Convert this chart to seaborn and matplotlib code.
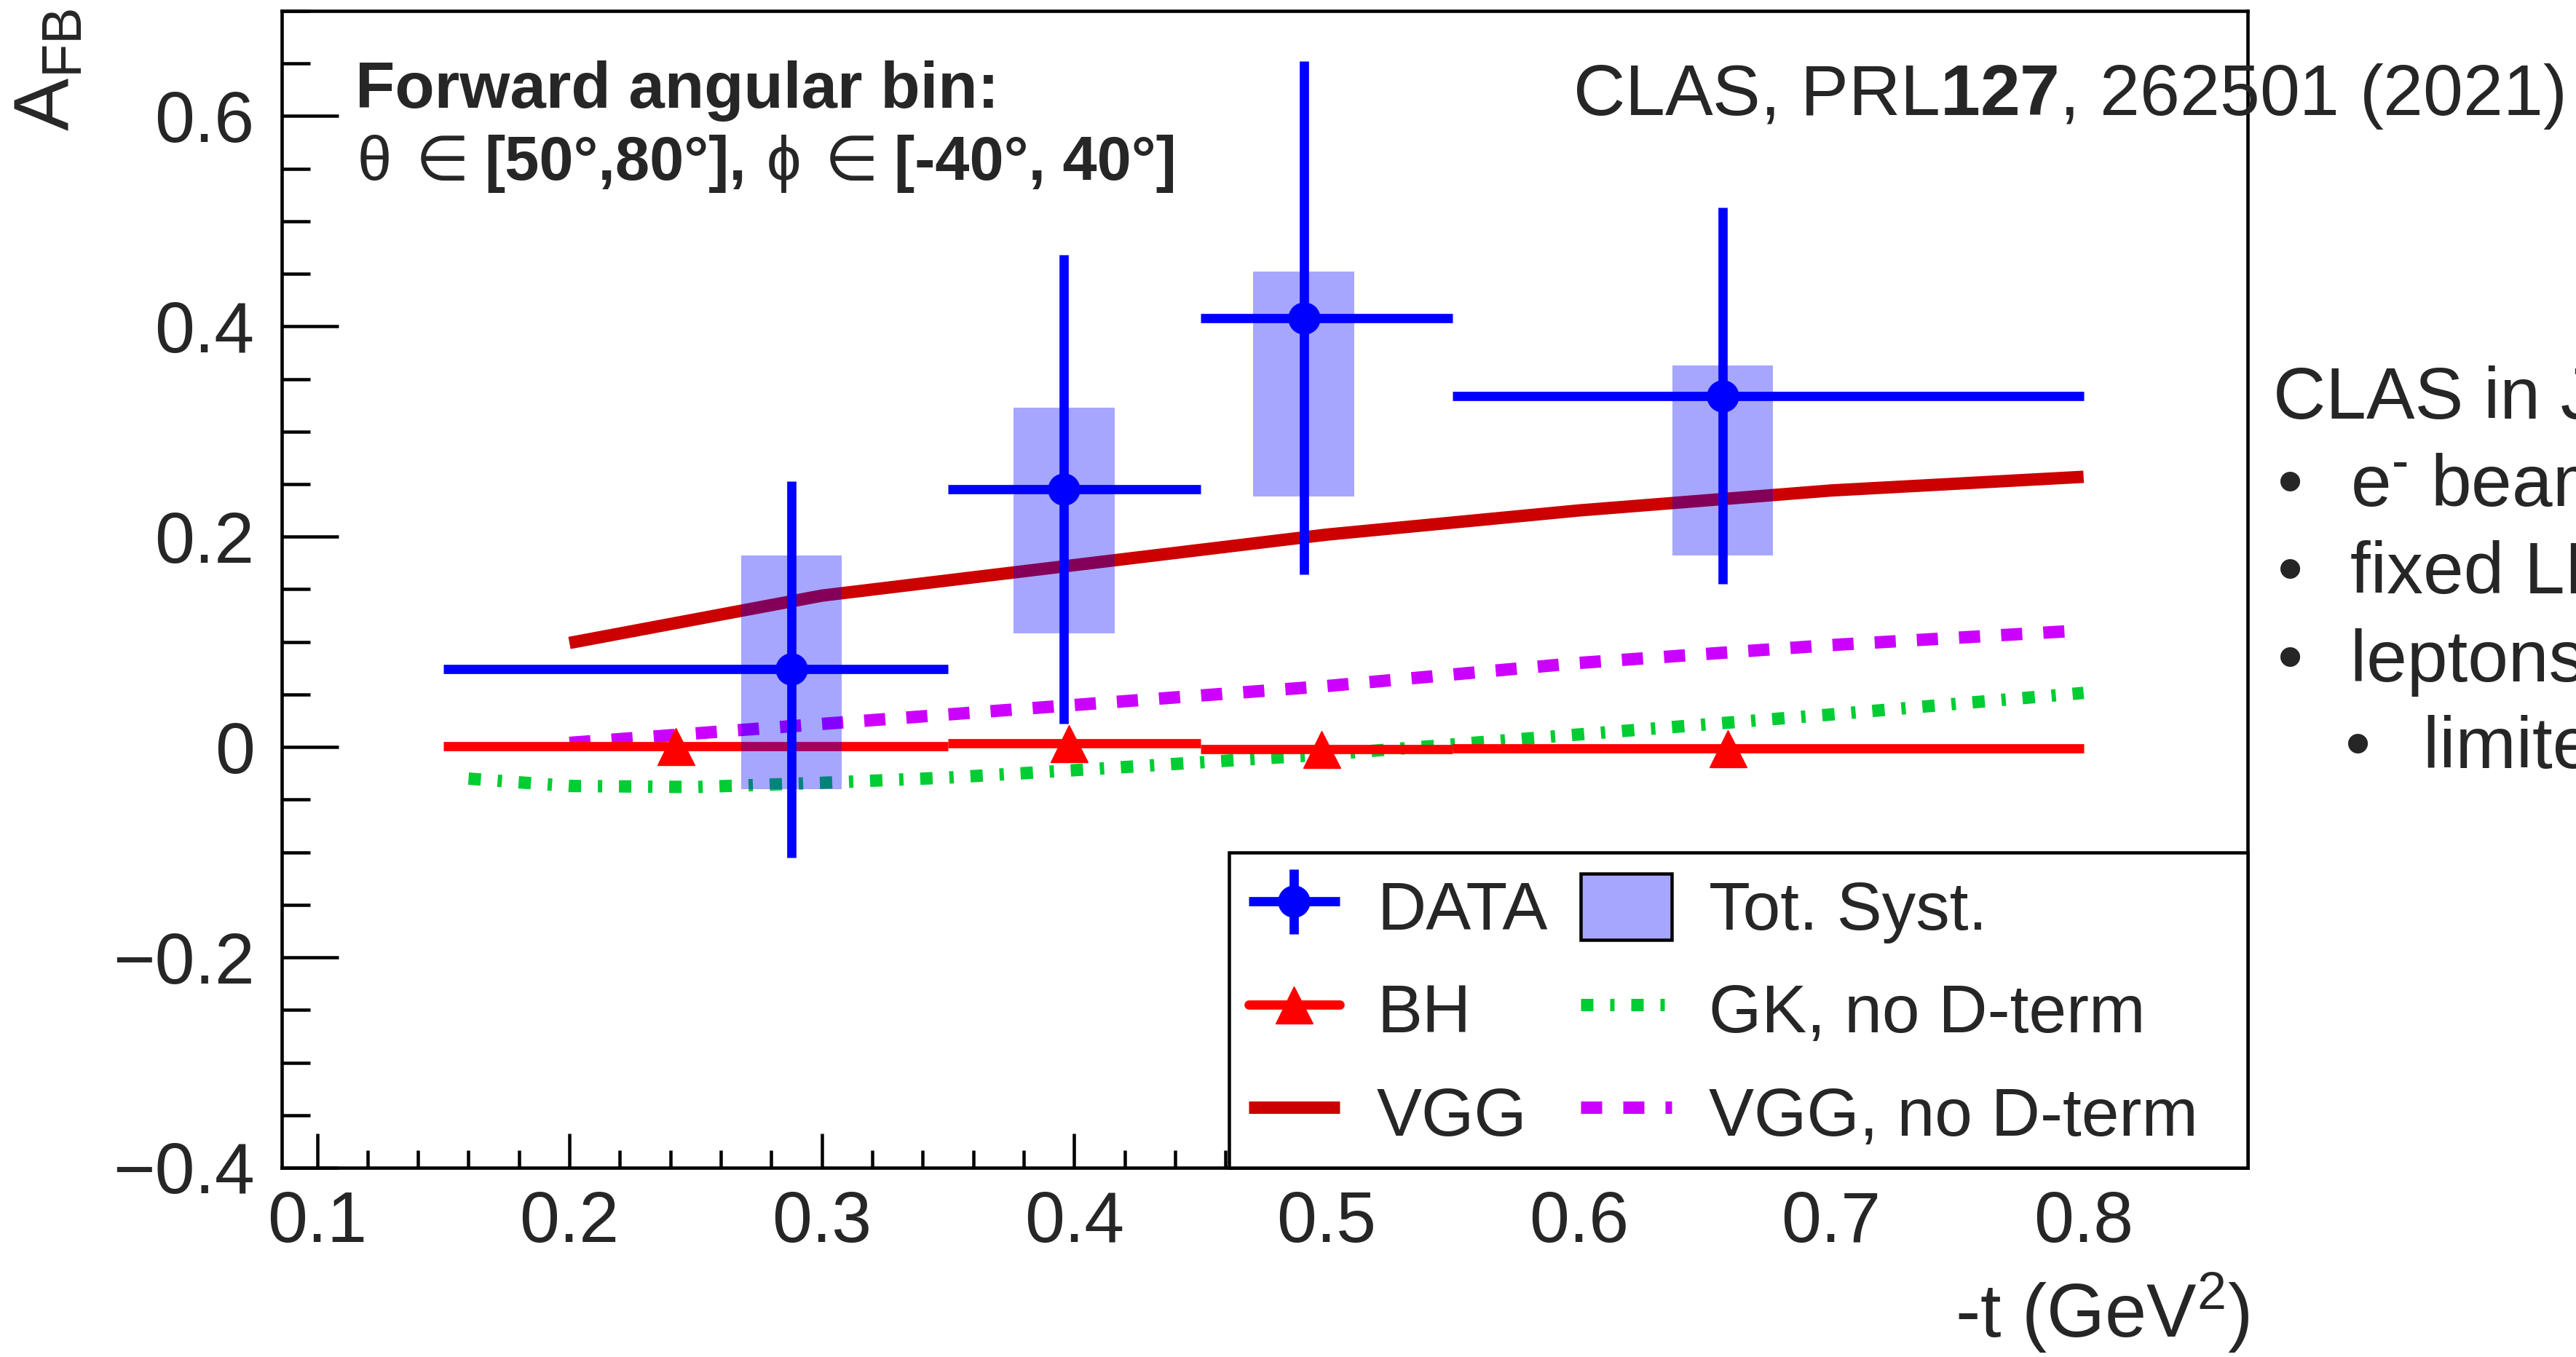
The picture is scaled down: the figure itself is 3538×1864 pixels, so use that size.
import matplotlib
matplotlib.use("Agg")
import numpy as np
import pandas as pd
import matplotlib.pyplot as plt
import seaborn as sns
from matplotlib.lines import Line2D
from matplotlib.patches import Patch, Rectangle
from matplotlib.legend_handler import HandlerErrorbar
from matplotlib.ticker import MultipleLocator, FuncFormatter
from matplotlib.transforms import IdentityTransform

# ---------------- data ----------------
bin_lo = [0.15, 0.35, 0.45, 0.55]
bin_hi = [0.35, 0.45, 0.55, 0.80]

data_t = [0.288, 0.396, 0.491, 0.657]
data_afb = [0.074, 0.245, 0.408, 0.334]
data_stat = [0.179, 0.223, 0.244, 0.179]
syst_low = [-0.040, 0.108, 0.238, 0.182]
syst_high = [0.182, 0.323, 0.452, 0.363]

bh_t = [0.242, 0.398, 0.498, 0.659]
bh_afb = [0.001, 0.0035, -0.002, -0.0015]

vgg_t = [0.2, 0.3, 0.4, 0.5, 0.6, 0.7, 0.8]
vgg_afb = [0.099, 0.144, 0.173, 0.202, 0.225, 0.244, 0.257]

vgg_nod_t = [0.2, 0.3, 0.4, 0.5, 0.6, 0.7, 0.8]
vgg_nod_afb = [0.004, 0.022, 0.040, 0.058, 0.080, 0.097, 0.111]

gk_t = [0.16, 0.2, 0.25, 0.3, 0.35, 0.4, 0.5, 0.6, 0.7, 0.8]
gk_afb = [-0.030, -0.037, -0.038, -0.034, -0.029, -0.022, -0.007, 0.012, 0.031, 0.0515]

x_ticks = [0.1, 0.2, 0.3, 0.4, 0.5, 0.6, 0.7, 0.8]
y_ticks = [-0.4, -0.2, 0.0, 0.2, 0.4, 0.6]

legend_labels = ["DATA", "BH", "VGG", "Tot. Syst.", "GK, no D-term", "VGG, no D-term"]

# ---------------- style ----------------
sns.set_style("ticks")
plt.rcParams["font.family"] = ["Liberation Sans", "DejaVu Sans"]
plt.rcParams["mathtext.fontset"] = "custom"
plt.rcParams["mathtext.rm"] = "Liberation Sans"
plt.rcParams["mathtext.it"] = "Liberation Sans:italic"
plt.rcParams["mathtext.bf"] = "Liberation Sans:bold"
plt.rcParams["axes.unicode_minus"] = True

DPI = 100
W, H = 3538, 1864
def pt(px):
    return px * 72.0 / DPI

fig = plt.figure(figsize=(W / DPI, H / DPI), dpi=DPI, facecolor="white")
ax_l, ax_r, ax_t, ax_b = 387, 3087, 15, 1604
ax = fig.add_axes([ax_l / W, 1 - ax_b / H, (ax_r - ax_l) / W, (ax_b - ax_t) / H])
ax.set_facecolor("white")

BLUE = "#0000ff"
RED = "#ff0000"
DARKRED = "#cc0000"
GREEN = "#00cc33"
MAGENTA = "#cc00ff"
SYST = (0.0, 0.0, 1.0, 0.35)

THICK = pt(17)
MED = pt(12.7)

# theory curves (under the systematic boxes)
sns.lineplot(x=vgg_t, y=vgg_afb, ax=ax, color=DARKRED, linewidth=THICK,
             errorbar=None, zorder=2, solid_capstyle="butt")
sns.lineplot(x=vgg_nod_t, y=vgg_nod_afb, ax=ax, color=MAGENTA, linewidth=THICK,
             errorbar=None, zorder=2)
vnd_dash = [29 / 17, 29 / 17]
ax.lines[-1].set_dashes(vnd_dash)
ax.lines[-1].set_dash_capstyle("butt")
sns.lineplot(x=gk_t, y=gk_afb, ax=ax, color=GREEN, linewidth=THICK,
             errorbar=None, zorder=2)
gk_dash = [17 / 17, 23 / 17, 6 / 17, 23 / 17]
ax.lines[-1].set_dashes(gk_dash)
ax.lines[-1].set_dash_capstyle("butt")

# BH
bh_t_a = np.array(bh_t)
bh_xerr = [bh_t_a - np.array(bin_lo), np.array(bin_hi) - bh_t_a]
ax.errorbar(bh_t, bh_afb, xerr=bh_xerr, fmt="^", color=RED, ms=pt(51),
            elinewidth=MED, capsize=0, zorder=2)

# systematic boxes
syst_lo_a = np.array(syst_low)
syst_hi_a = np.array(syst_high)
ax.bar(data_t, syst_hi_a - syst_lo_a, bottom=syst_lo_a, width=0.04,
       color=SYST, edgecolor="none", linewidth=0, zorder=3)

# data
dt = np.array(data_t)
data_xerr = [dt - np.array(bin_lo), np.array(bin_hi) - dt]
data_cont = ax.errorbar(data_t, data_afb, xerr=data_xerr, yerr=data_stat, fmt="o",
                        color=BLUE, ms=pt(43), elinewidth=MED, capsize=0, zorder=4)

# ---------------- axes ----------------
ax.set_xlim(0.086, 0.865)
ax.set_ylim(-0.4, 0.7)
ax.xaxis.set_major_locator(plt.FixedLocator(x_ticks))
ax.xaxis.set_minor_locator(MultipleLocator(0.02))
ax.yaxis.set_major_locator(plt.FixedLocator(y_ticks))
ax.yaxis.set_minor_locator(MultipleLocator(0.05))

def yfmt(v, pos):
    if abs(v) < 1e-9:
        return "0"
    s = f"{abs(v):.1f}"
    return ("\u2212" + s) if v < 0 else s

ax.yaxis.set_major_formatter(FuncFormatter(yfmt))
ax.xaxis.set_major_formatter(FuncFormatter(lambda v, p: f"{v:.1f}"))

for sp in ax.spines.values():
    sp.set_linewidth(pt(4.6))
    sp.set_color("black")
ax.tick_params(axis="both", which="both", direction="in", top=False, right=False,
               width=pt(4.5), color="black", labelsize=71)
ax.tick_params(axis="y", which="major", length=pt(78), pad=27)
ax.tick_params(axis="y", which="minor", length=pt(39))
ax.tick_params(axis="x", which="major", length=pt(47), pad=22)
ax.tick_params(axis="x", which="minor", length=pt(23.5))

ax.set_xlabel(r"-t (GeV$^{2}$)", fontsize=74, loc="right")
ax.xaxis.set_label_coords(3090 / W, 1 - 1745 / H, transform=fig.transFigure)
ax.set_ylabel(r"A$_{\mathregular{FB}}$", fontsize=78, loc="top")
ax.yaxis.set_label_coords(118 / W, 1 - 12 / H, transform=fig.transFigure)

# ---------------- legend ----------------
h_bh = Line2D([0], [0], color=RED, lw=MED, marker="^", ms=pt(51))
h_vgg = Line2D([0], [0], color=DARKRED, lw=THICK, solid_capstyle="butt")
h_syst = Patch(facecolor=SYST, edgecolor="black", linewidth=pt(4.5))
h_gk = Line2D([0], [0], color=GREEN, lw=THICK, dashes=gk_dash, dash_capstyle="butt")
h_vnd = Line2D([0], [0], color=MAGENTA, lw=THICK, dashes=vnd_dash, dash_capstyle="butt")
handles = [data_cont, h_bh, h_vgg, h_syst, h_gk, h_vnd]

# legend frame (ROOT-style box with asymmetric padding)
lx0 = (1688 - ax_l) / (ax_r - ax_l)
lh = (1604 - 1171) / (ax_b - ax_t)
frame = Rectangle((lx0, 0.0), 1 - lx0, lh, transform=ax.transAxes, facecolor="white",
                  edgecolor="black", linewidth=pt(4.5), zorder=9, clip_on=False)
ax.add_patch(frame)

leg = ax.legend(handles, legend_labels, ncol=2, loc="upper left",
                bbox_to_anchor=(1715 / W, 1 - 1200 / H), bbox_transform=fig.transFigure,
                borderaxespad=0, borderpad=0,
                fontsize=67, frameon=False,
                handlelength=1.34, handleheight=1.12, handletextpad=0.55,
                labelspacing=0.49, columnspacing=0.49, numpoints=1,
                handler_map={type(data_cont): HandlerErrorbar(xerr_size=0.67, yerr_size=0.475)})
leg.set_zorder(10)

# ---------------- annotations ----------------
fig.text(488 / W, 1 - 148 / H, "Forward angular bin:", fontsize=64, fontweight="bold",
         ha="left", va="baseline")

fig.canvas.draw()
renderer = fig.canvas.get_renderer()
fs2 = 61
em = fs2 * DPI / 72.0
pieces = [("\u03b8", "normal", 0.38), ("\u2208", "normal", 0.25), ("[50\u00b0,80\u00b0],", "bold", 0.33),
          ("\u03d5", "normal", 0.38), ("\u2208", "normal", 0.25), ("[-40\u00b0, 40\u00b0]", "bold", 0.0)]
xcur = 491
ybase = H - 247
for s, w, gap in pieces:
    t = fig.text(xcur, ybase, s, transform=IdentityTransform(), fontsize=fs2, fontweight=w,
                 ha="left", va="baseline")
    bb = t.get_window_extent(renderer=renderer)
    xcur = bb.x1 + gap * em

fig.text(2160 / W, 1 - 158 / H, r"CLAS, PRL$\mathbf{127}$, 262501 (2021)", fontsize=71,
         ha="left", va="baseline")

side = 72
fig.text(3122 / W, 1 - 575 / H, "CLAS in JLab Hall B", fontsize=side, ha="left", va="baseline")
bullets = [(3128, 3228, 695, r"e$^{\text{-}}$ beam 10.6 GeV"),
           (3128, 3228, 815, "fixed LH2 target"),
           (3128, 3228, 936, "leptons detected at large angles"),
           (3221, 3328, 1055, "limited acceptance")]
for bx, tx, by, s in bullets:
    fig.text(bx / W, 1 - by / H, "\u2022", fontsize=side, ha="left", va="baseline")
    fig.text(tx / W, 1 - by / H, s, fontsize=side, ha="left", va="baseline")

fig.savefig("out.png", dpi=DPI, facecolor="white")
